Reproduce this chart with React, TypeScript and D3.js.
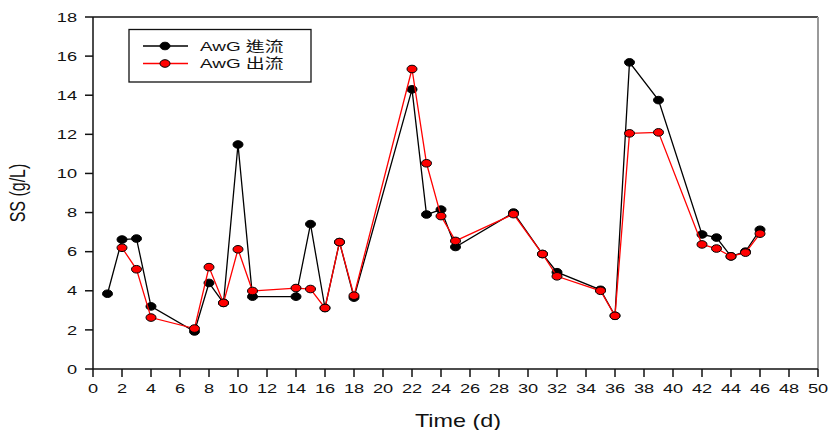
import React, { useEffect, useRef } from 'react';
import * as d3 from 'd3';

// days sampled
const days = [1, 2, 3, 4, 7, 8, 9, 10, 11, 14, 15, 16, 17, 18, 22, 23, 24, 25, 29, 31, 32, 35, 36, 37, 39, 42, 43, 44, 45, 46];
// AwG 進流 (influent SS, g/L)
const influent = [3.85, 6.62, 6.67, 3.2, 1.92, 4.4, 3.38, 11.48, 3.7, 3.7, 7.41, 3.12, 6.49, 3.65, 14.3, 7.9, 8.15, 6.24, 8.0, 5.88, 4.95, 4.05, 2.72, 15.68, 13.75, 6.88, 6.72, 5.76, 6.0, 7.12];
// AwG 出流 (effluent SS, g/L) — no value on day 1
const effluent = [null, 6.2, 5.1, 2.63, 2.07, 5.21, 3.38, 6.12, 3.99, 4.14, 4.09, 3.12, 6.49, 3.75, 15.34, 10.52, 7.82, 6.55, 7.92, 5.88, 4.74, 4.0, 2.72, 12.05, 12.1, 6.37, 6.16, 5.76, 5.95, 6.92];

const xTicks = d3.range(0, 51, 2);
const yTicks = d3.range(0, 19, 2);

const series = [
  { name: 'AwG 進流', values: influent, color: '#000000' },
  { name: 'AwG 出流', values: effluent, color: '#ff0000' },
];

const W = 830;
const H = 430;
const SX = 1.4; // the source picture is stretched horizontally

const App = () => {
  const ref = useRef<SVGSVGElement | null>(null);

  useEffect(() => {
    document.body.style.margin = '0';
    const svg = d3.select(ref.current);
    svg.selectAll('*').remove();

    const x = d3.scaleLinear().domain([0, 50]).range([93, 818]);
    const y = d3.scaleLinear().domain([0, 18]).range([369, 17]);
    const font = '"Liberation Sans", Arial, sans-serif';

    // frame
    svg.append('line').attr('x1', x(0)).attr('x2', x(50)).attr('y1', y(18)).attr('y2', y(18))
      .attr('stroke', '#111').attr('stroke-width', 1.5);
    svg.append('line').attr('x1', x(50)).attr('x2', x(50)).attr('y1', y(18)).attr('y2', y(0))
      .attr('stroke', '#9a9a9a').attr('stroke-width', 2);

    // y axis
    svg.append('line').attr('x1', x(0)).attr('x2', x(0)).attr('y1', y(18)).attr('y2', y(0))
      .attr('stroke', '#111').attr('stroke-width', 1.5);
    const yg = svg.append('g');
    yTicks.forEach((t) => {
      yg.append('line').attr('x1', x(0) - 8).attr('x2', x(0)).attr('y1', y(t)).attr('y2', y(t))
        .attr('stroke', '#111').attr('stroke-width', 1.5);
      yg.append('text')
        .attr('transform', `translate(77,${y(t)}) scale(${SX},1)`)
        .attr('dy', '0.36em')
        .attr('text-anchor', 'end')
        .attr('font-family', font).attr('font-size', 13).attr('fill', '#111')
        .text(t);
    });

    // x axis
    svg.append('line').attr('x1', x(0)).attr('x2', x(50)).attr('y1', y(0)).attr('y2', y(0))
      .attr('stroke', '#111').attr('stroke-width', 1.5);
    const xg = svg.append('g');
    xTicks.forEach((t) => {
      xg.append('line').attr('x1', x(t)).attr('x2', x(t)).attr('y1', y(0)).attr('y2', y(0) + 8)
        .attr('stroke', '#111').attr('stroke-width', 1.5);
      xg.append('text')
        .attr('transform', `translate(${x(t)},393) scale(${SX},1)`)
        .attr('text-anchor', 'middle')
        .attr('font-family', font).attr('font-size', 13).attr('fill', '#111')
        .text(t);
    });

    // axis titles
    svg.append('text')
      .attr('transform', `translate(458,427) scale(1.3,1)`)
      .attr('text-anchor', 'middle')
      .attr('font-family', font).attr('font-size', 18).attr('fill', '#111')
      .text('Time (d)');
    svg.append('text')
      .attr('transform', `translate(25,193) scale(${SX},1) rotate(-90)`)
      .attr('text-anchor', 'middle')
      .attr('font-family', font).attr('font-size', 16).attr('fill', '#111')
      .text('SS (g/L)');

    // series
    series.forEach((s) => {
      const pts = days.map((d, i) => ({ d, v: s.values[i] })).filter((p) => p.v != null) as { d: number; v: number }[];
      const line = d3.line<{ d: number; v: number }>().x((p) => x(p.d)).y((p) => y(p.v));
      svg.append('path').datum(pts).attr('d', line)
        .attr('fill', 'none').attr('stroke', s.color).attr('stroke-width', 1.3);
      svg.append('g').selectAll('ellipse').data(pts).enter().append('ellipse')
        .attr('cx', (p) => x(p.d)).attr('cy', (p) => y(p.v))
        .attr('rx', 5).attr('ry', 3.8)
        .attr('fill', s.color).attr('stroke', '#000').attr('stroke-width', 1);
    });

    // legend
    const lg = svg.append('g');
    lg.append('rect').attr('x', 129).attr('y', 29.5).attr('width', 182).attr('height', 52.5)
      .attr('fill', '#fff').attr('stroke', '#111').attr('stroke-width', 1.3);
    series.forEach((s, i) => {
      const ly = 46 + i * 17.5;
      lg.append('line').attr('x1', 143).attr('x2', 188).attr('y1', ly).attr('y2', ly)
        .attr('stroke', s.color).attr('stroke-width', 1.3);
      lg.append('ellipse').attr('cx', 165).attr('cy', ly).attr('rx', 5).attr('ry', 3.8)
        .attr('fill', s.color).attr('stroke', '#000').attr('stroke-width', 1);
      lg.append('text')
        .attr('transform', `translate(200,${ly}) scale(${SX},1)`)
        .attr('dy', '0.36em')
        .attr('font-family', '"Liberation Sans", "Noto Sans CJK TC", sans-serif')
        .attr('font-size', 13.5).attr('fill', '#111')
        .text(s.name);
    });
  }, []);

  return <svg ref={ref} width={W} height={H} style={{ display: 'block', background: '#fff' }} />;
};

export default App;
